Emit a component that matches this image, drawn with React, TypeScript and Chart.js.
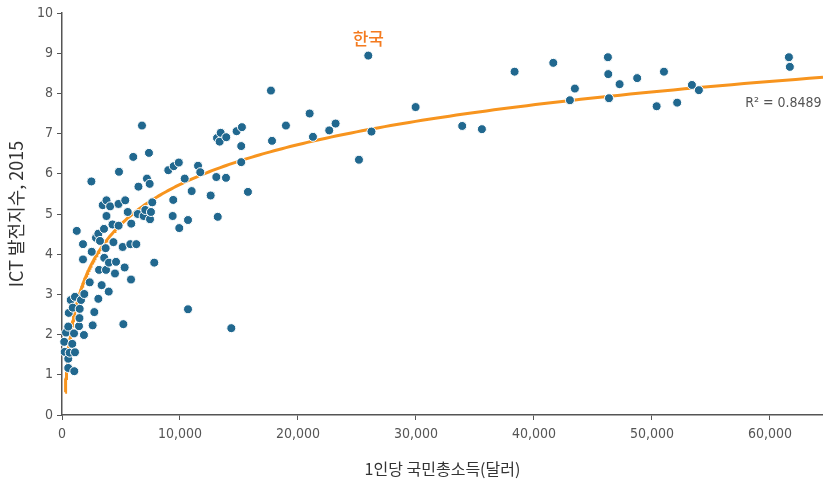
import React, { useEffect, useRef } from "react";
import { Chart, registerables } from "chart.js";

Chart.register(...registerables);

// 1인당 국민총소득(달러)
const gniPerCapita = [
  190, 230, 340, 530, 530, 530, 570, 650, 740, 870, 910, 1020, 1040, 1100, 1100, 1250, 1610, 1440, 1500, 1480,
  1780, 1780, 1860, 1890, 2350, 2490, 2520, 2600, 2740, 2880, 3080, 3080, 3140, 3220, 3360, 3450, 3560, 3580, 3700, 3730,
  3770, 3770, 3960, 3980, 4080, 4280, 4360, 4580, 4490, 4790, 4800, 4830, 5140, 5200, 5310, 5360, 5570, 5790, 5850, 5870,
  6040, 6300, 6420, 6480, 6780, 6920, 7060, 7200, 7370, 7430, 7460, 7540, 7650, 7820, 9010, 9470, 9430, 9380, 9900, 9940,
  10400, 10680, 10990, 10680, 11530, 11720, 12600, 13080, 13200, 13140, 13360, 13450, 13920, 13900, 14350, 14800, 15250, 15190, 15190, 15760,
  17710, 17800, 18980, 20990, 21270, 22650, 23190, 25170, 25960, 26230, 29970, 33920, 35590, 38360, 41640, 43050, 43470, 46270, 46300, 46360,
  47260, 48750, 51020, 50400, 52140, 53390, 53980, 61610, 61690,
];

// ICT 발전지수, 2015
const ictIndex = [
  1.82, 1.57, 2.05, 1.40, 1.17, 2.20, 2.54, 1.55, 2.86, 1.77, 2.67, 2.03, 1.09, 1.56, 2.94, 4.58, 2.86, 2.21, 2.64, 2.41,
  4.25, 3.87, 1.99, 3.01, 3.30, 5.81, 4.06, 2.23, 2.56, 4.41, 4.51, 2.89, 3.61, 4.33, 3.23, 5.22, 4.63, 3.91, 4.15, 3.61,
  5.34, 4.95, 3.07, 3.79, 5.19, 4.74, 4.30, 3.81, 3.52, 5.25, 4.71, 6.05, 4.18, 2.26, 3.67, 5.34, 5.05, 4.25, 3.37, 4.76,
  6.42, 4.25, 5.00, 5.68, 7.20, 4.95, 5.10, 5.88, 6.52, 5.75, 4.87, 5.05, 5.29, 3.79, 6.09, 6.19, 5.35, 4.95, 6.28, 4.65,
  5.88, 4.85, 5.57, 2.63, 6.20, 6.04, 5.46, 5.92, 4.93, 6.89, 6.80, 7.02, 6.91, 5.90, 2.16, 7.06, 7.16, 6.69, 6.29, 5.55,
  8.07, 6.82, 7.20, 7.50, 6.92, 7.08, 7.25, 6.35, 8.94, 7.05, 7.66, 7.19, 7.11, 8.54, 8.76, 7.83, 8.12, 8.90, 8.48, 7.88,
  8.23, 8.38, 8.54, 7.68, 7.77, 8.21, 8.08, 8.90, 8.66,
];

const xTickValues = [0, 10000, 20000, 30000, 40000, 50000, 60000];
const yTickValues = [0, 1, 2, 3, 4, 5, 6, 7, 8, 9, 10];

const xTitle = "1인당 국민총소득(달러)";
const yTitle = "ICT 발전지수, 2015";
const koreaLabel = "한국";
const koreaGni = 25960;
const rSquaredText = "R\u00B2 = 0.8489";

// trend line range (x) and R² label anchor (data coords)
const trendStartX = 270;
const trendEndX = 64500;
const rSquaredAnchor = { x: 57900, y: 7.76 };

const X_MAX = 64500;

function logFit(xs: number[], ys: number[]) {
  const lx = xs.map((v) => Math.log(v));
  const n = lx.length;
  const mx = lx.reduce((a, b) => a + b, 0) / n;
  const my = ys.reduce((a, b) => a + b, 0) / n;
  let sxy = 0;
  let sxx = 0;
  for (let i = 0; i < n; i++) {
    sxy += (lx[i] - mx) * (ys[i] - my);
    sxx += (lx[i] - mx) * (lx[i] - mx);
  }
  const a = sxy / sxx;
  const b = my - a * mx;
  return { a, b };
}

const LATIN = "'Liberation Sans Narrow', 'DejaVu Sans Condensed', 'Noto Sans CJK KR', sans-serif";
const KR = "'Noto Sans CJK KR', 'Liberation Sans Narrow', sans-serif";

export default function App() {
  const ref = useRef<HTMLCanvasElement | null>(null);

  useEffect(() => {
    if (!ref.current) return;
    const { a, b } = logFit(gniPerCapita, ictIndex);
    const trend: { x: number; y: number }[] = [];
    const steps = 300;
    const l0 = Math.log(trendStartX);
    const l1 = Math.log(trendEndX);
    for (let i = 0; i <= steps; i++) {
      const x = Math.exp(l0 + ((l1 - l0) * i) / steps);
      trend.push({ x, y: a * Math.log(x) + b });
    }
    const points = gniPerCapita.map((x, i) => ({ x, y: ictIndex[i] }));
    const koreaIdx = gniPerCapita.indexOf(koreaGni);

    const annot = {
      id: "annot",
      afterDatasetsDraw(chart: any) {
        const ctx = chart.ctx;
        const xs = chart.scales.x;
        const ys = chart.scales.y;
        ctx.save();
        const kp = points[koreaIdx];
        ctx.fillStyle = "#F47B20";
        ctx.font = `500 17px ${KR}`;
        ctx.textAlign = "center";
        ctx.textBaseline = "middle";
        ctx.fillText(koreaLabel, xs.getPixelForValue(kp.x), ys.getPixelForValue(kp.y) - 17);
        ctx.fillStyle = "#555";
        ctx.font = `14px ${LATIN}`;
        ctx.textAlign = "left";
        ctx.fillText(rSquaredText, xs.getPixelForValue(rSquaredAnchor.x), ys.getPixelForValue(rSquaredAnchor.y));
        ctx.restore();
      },
    };

    const chart = new Chart(ref.current, {
      type: "scatter",
      data: {
        datasets: [
          {
            type: "scatter",
            data: points,
            backgroundColor: "#21688F",
            borderColor: "#ffffff",
            borderWidth: 1,
            pointRadius: 4.5,
            clip: false,
          },
          {
            type: "line",
            data: trend,
            borderColor: "#F7941E",
            borderWidth: 3,
            pointRadius: 0,
            fill: false,
            tension: 0,
          },
        ],
      } as any,
      options: {
        animation: false,
        responsive: false,
        maintainAspectRatio: false,
        layout: { autoPadding: false, padding: { top: 13, right: 0, left: 0, bottom: 0 } },
        plugins: { legend: { display: false }, tooltip: { enabled: false } },
        scales: {
          x: {
            type: "linear",
            min: 0,
            max: X_MAX,
            afterBuildTicks: (scale: any) => {
              scale.ticks = xTickValues.map((v) => ({ value: v }));
            },
            afterFit: (scale: any) => {
              scale.height = 64;
              scale.paddingRight = 0;
              scale.paddingLeft = 0;
            },
            grid: { display: true, drawOnChartArea: false, drawTicks: true, tickLength: 5, color: "#555" },
            border: { display: true, color: "#555", width: 1.5 },
            ticks: {
              color: "#555",
              font: { family: LATIN, size: 14 },
              padding: 6,
              maxRotation: 0,
              callback: (v: any) => Number(v).toLocaleString("en-US"),
            },
            title: {
              display: true,
              text: xTitle,
              color: "#333",
              font: { family: KR, size: 16 },
              padding: { top: 8, bottom: 0 },
            },
          },
          y: {
            type: "linear",
            min: 0,
            max: 10,
            afterBuildTicks: (scale: any) => {
              scale.ticks = yTickValues.map((v) => ({ value: v }));
            },
            afterFit: (scale: any) => {
              scale.width = 62;
              scale.paddingTop = 0;
              scale.paddingBottom = 0;
            },
            grid: { display: true, drawOnChartArea: false, drawTicks: true, tickLength: 5, color: "#555" },
            border: { display: true, color: "#555", width: 1.5 },
            ticks: {
              color: "#555",
              font: { family: LATIN, size: 14 },
              padding: 4,
            },
            title: {
              display: true,
              text: yTitle,
              color: "#333",
              font: { family: KR, size: 18 },
              padding: { top: 5, bottom: 4 },
            },
          },
        },
      } as any,
      plugins: [annot],
    });
    return () => chart.destroy();
  }, []);

  return (
    <div style={{ position: "fixed", left: 0, top: 0, width: 823, height: 479, background: "#fff" }}>
      <canvas ref={ref} width={823} height={479} style={{ width: 823, height: 479, display: "block" }} />
    </div>
  );
}
